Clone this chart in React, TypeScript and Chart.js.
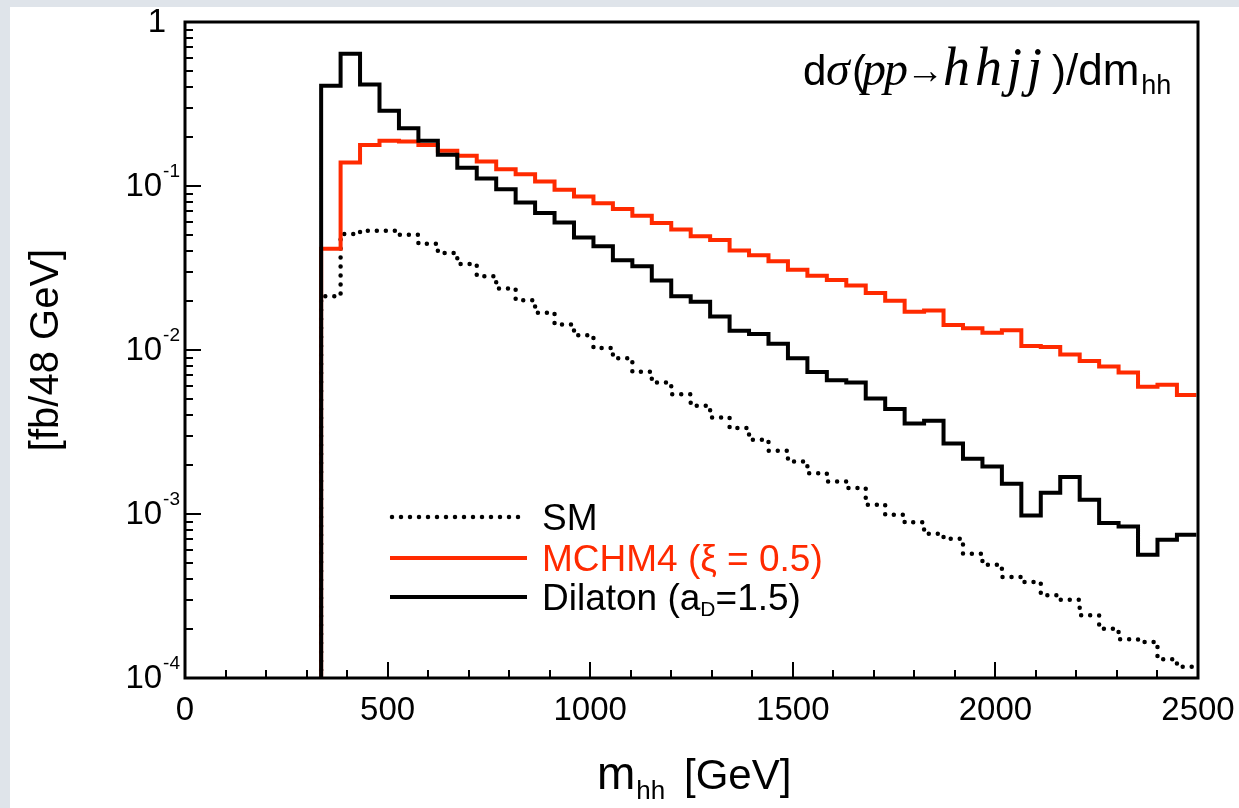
import React, { useEffect, useRef } from 'react';
import { Chart, registerables } from 'chart.js';

Chart.register(...registerables);

// ---- data ----
const binStart = 336; // GeV, lower edge of first filled bin
const binWidth = 48; // GeV
const smValues = [
  0.0213, 0.0509, 0.0534, 0.0534, 0.0505, 0.0445, 0.0391, 0.0335, 0.0282, 0.0237,
  0.0201, 0.0169, 0.0143, 0.0123, 0.0103, 0.0089, 0.00738, 0.00633, 0.00537, 0.00457,
  0.00388, 0.00334, 0.00284, 0.00243, 0.00209, 0.00177, 0.00158, 0.00144, 0.00114, 0.00099,
  0.00089, 0.000758, 0.000706, 0.000573, 0.000491, 0.000413, 0.000385, 0.00032, 0.0003, 0.000241,
  0.0002, 0.000172, 0.000166, 0.00013, 0.000117,
];
const mchm4Values = [
  0.0415, 0.139, 0.178, 0.189, 0.187, 0.178, 0.164, 0.153, 0.141, 0.1265,
  0.118, 0.1065, 0.0948, 0.0863, 0.0786, 0.0723, 0.0659, 0.0594, 0.0542, 0.0493,
  0.0469, 0.0405, 0.0378, 0.0348, 0.0309, 0.0284, 0.0267, 0.0247, 0.0223, 0.02,
  0.0171, 0.0174, 0.0142, 0.01355, 0.01274, 0.0132, 0.01057, 0.01043, 0.0094, 0.00857,
  0.00792, 0.00728, 0.00596, 0.00613, 0.00532,
];
const dilatonValues = [
  0.408, 0.641, 0.416, 0.288, 0.225, 0.189, 0.155, 0.129, 0.111, 0.0957,
  0.0794, 0.0684, 0.06, 0.0486, 0.0429, 0.0352, 0.0324, 0.0265, 0.0213, 0.0197,
  0.016, 0.0131, 0.0125, 0.0109, 0.0089, 0.00735, 0.00654, 0.00633, 0.00506, 0.00436,
  0.00356, 0.0037, 0.00269, 0.00217, 0.00195, 0.00153, 0.00098, 0.00135, 0.00168, 0.00122,
  0.00088, 0.00084, 0.000565, 0.000697, 0.000747,
];
const xTickValues = [0, 500, 1000, 1500, 2000, 2500];
const xMinorStep = 100;
const yDecades = [1e-4, 1e-3, 1e-2, 1e-1, 1];
const yExponents = ['-4', '-3', '-2', '-1', ''];
const legendLabels = ['SM', 'MCHM4 (\u03BE = 0.5)', 'Dilaton (a', 'D', '=1.5)'];

const RED = '#ff2a00';
const SANS = "'Liberation Sans', Arial, Helvetica, sans-serif";
const SERIF = "'Liberation Serif', 'Times New Roman', serif";

function toSteps(values: number[]) {
  const pts: { x: number; y: number }[] = [{ x: binStart, y: 1e-9 }];
  values.forEach((v, i) => pts.push({ x: binStart + i * binWidth, y: v }));
  pts.push({ x: binStart + values.length * binWidth, y: values[values.length - 1] });
  return pts;
}

function spacedText(ctx: any, text: string, x: number, y: number, width: number) {
  const chars = text.split('');
  const total = chars.reduce((s, c) => s + ctx.measureText(c).width, 0);
  const gap = chars.length > 1 ? (width - total) / chars.length : 0;
  let cx = x;
  for (const c of chars) {
    ctx.fillText(c, cx, y);
    cx += ctx.measureText(c).width + gap;
  }
}

const decorPlugin = {
  id: 'decor',
  beforeDraw(chart: any) {
    const ctx = chart.ctx;
    ctx.save();
    ctx.fillStyle = '#dfe4ea';
    ctx.fillRect(0, 0, chart.width, chart.height);
    ctx.fillStyle = '#ffffff';
    ctx.fillRect(10, 7, chart.width - 10, chart.height - 7);
    ctx.restore();
  },
  afterDatasetsDraw(chart: any) {
    const ctx = chart.ctx;
    const a = chart.chartArea;
    const xs = chart.scales.x;
    const ys = chart.scales.y;
    ctx.save();
    ctx.strokeStyle = '#000';
    ctx.lineCap = 'butt';
    ctx.lineWidth = 2;
    for (let v = xTickValues[0]; v <= xTickValues[xTickValues.length - 1]; v += xMinorStep) {
      const px = Math.round(xs.getPixelForValue(v));
      const major = xTickValues.includes(v);
      ctx.beginPath();
      ctx.moveTo(px, a.bottom);
      ctx.lineTo(px, a.bottom - (major ? 16 : 8));
      ctx.stroke();
    }
    for (let d = 0; d < yDecades.length; d++) {
      const dec = yDecades[d];
      const py = Math.round(ys.getPixelForValue(dec));
      ctx.beginPath();
      ctx.moveTo(a.left, py);
      ctx.lineTo(a.left + 16, py);
      ctx.stroke();
      if (d < yDecades.length - 1) {
        for (let m = 2; m <= 9; m++) {
          const pm = Math.round(ys.getPixelForValue(dec * m));
          ctx.beginPath();
          ctx.moveTo(a.left, pm);
          ctx.lineTo(a.left + 8, pm);
          ctx.stroke();
        }
      }
    }
    ctx.lineWidth = 3;
    ctx.strokeRect(a.left, a.top, a.right - a.left, a.bottom - a.top);
    ctx.restore();
  },
  afterDraw(chart: any) {
    const ctx = chart.ctx;
    const ys = chart.scales.y;
    ctx.save();
    ctx.fillStyle = '#000';
    // y tick labels with superscripts
    for (let d = 0; d < yDecades.length; d++) {
      const py = ys.getPixelForValue(yDecades[d]);
      const exp = yExponents[d];
      ctx.textBaseline = 'middle';
      ctx.font = `33px ${SANS}`;
      if (exp === '') {
        ctx.textAlign = 'right';
        ctx.fillText('1', 166, py + 1);
        continue;
      }
      ctx.textAlign = 'left';
      ctx.font = `19px ${SANS}`;
      const ew = ctx.measureText(exp).width;
      ctx.font = `33px ${SANS}`;
      const tw = ctx.measureText('10').width;
      const supX = 180 - ew;
      ctx.fillText('10', supX - tw - 1, py + 1);
      ctx.font = `19px ${SANS}`;
      ctx.textBaseline = 'alphabetic';
      ctx.fillText(exp, supX, py - 9);
    }

    // y axis title
    ctx.save();
    ctx.translate(47, 350);
    ctx.rotate(-Math.PI / 2);
    ctx.textAlign = 'center';
    ctx.textBaseline = 'middle';
    ctx.font = `40px ${SANS}`;
    ctx.fillText('[fb/48 GeV]', 0, 0);
    ctx.restore();

    // x axis title: m_hh  [GeV]
    ctx.textAlign = 'left';
    ctx.textBaseline = 'alphabetic';
    const xb = 789;
    ctx.font = `46px ${SANS}`;
    ctx.fillText('m', 597, xb);
    const mw = ctx.measureText('m').width;
    ctx.font = `26px ${SANS}`;
    ctx.fillText('hh', 597 + mw + 1, xb + 10);
    ctx.font = `42px ${SANS}`;
    ctx.fillText('[GeV]', 684, xb);

    // plot title: dσ(pp→hhjj)/dm_hh
    const tb = 85;
    const serifIt = `italic 48px ${SERIF}`;
    ctx.font = `42px ${SANS}`;
    ctx.fillText('d', 803, tb);
    ctx.font = serifIt;
    ctx.fillText('\u03C3', 826, tb);
    ctx.font = `42px ${SANS}`;
    ctx.fillText('(', 852, tb);
    ctx.font = serifIt;
    spacedText(ctx, 'pp', 862, tb, 44);
    ctx.font = `38px ${SERIF}`;
    ctx.textAlign = 'center';
    ctx.fillText('\u2192', 925, tb - 2);
    ctx.textAlign = 'left';
    ctx.font = `italic 54px ${SERIF}`;
    spacedText(ctx, 'hhjj', 943, tb, 104);
    ctx.font = `42px ${SANS}`;
    let sx = 1052;
    ctx.fillText(')', sx, tb);
    sx += ctx.measureText(')').width;
    ctx.font = `44px ${SANS}`;
    ctx.fillText('/dm', sx, tb);
    sx += ctx.measureText('/dm').width + 2;
    ctx.font = `27px ${SANS}`;
    ctx.fillText('hh', sx, tb + 9);

    // legend
    const rows = [517, 558, 597];
    const lx0 = 390;
    const lx1 = 527;
    ctx.lineCap = 'round';
    ctx.strokeStyle = '#000';
    ctx.lineWidth = 4.5;
    ctx.setLineDash([0, 9]);
    ctx.beginPath();
    ctx.moveTo(lx0 + 2, rows[0]);
    ctx.lineTo(lx1, rows[0]);
    ctx.stroke();
    ctx.setLineDash([]);
    ctx.lineCap = 'butt';
    ctx.lineWidth = 4;
    ctx.strokeStyle = RED;
    ctx.beginPath();
    ctx.moveTo(lx0, rows[1]);
    ctx.lineTo(lx1, rows[1]);
    ctx.stroke();
    ctx.strokeStyle = '#000';
    ctx.beginPath();
    ctx.moveTo(lx0, rows[2]);
    ctx.lineTo(lx1, rows[2]);
    ctx.stroke();

    const tx0 = 542;
    const fs = 37;
    const off = 13;
    ctx.textBaseline = 'alphabetic';
    ctx.font = `${fs}px ${SANS}`;
    ctx.fillStyle = '#000';
    ctx.fillText(legendLabels[0], tx0, rows[0] + off);
    ctx.fillStyle = RED;
    ctx.fillText(legendLabels[1], tx0, rows[1] + off);
    ctx.fillStyle = '#000';
    let dx = tx0;
    ctx.fillText(legendLabels[2], dx, rows[2] + off);
    dx += ctx.measureText(legendLabels[2]).width;
    ctx.font = `21px ${SANS}`;
    ctx.fillText(legendLabels[3], dx, rows[2] + off + 6);
    dx += ctx.measureText(legendLabels[3]).width;
    ctx.font = `${fs}px ${SANS}`;
    ctx.fillText(legendLabels[4], dx, rows[2] + off);
    ctx.restore();
  },
};

export default function App() {
  const canvasRef = useRef<HTMLCanvasElement | null>(null);

  useEffect(() => {
    const canvas = canvasRef.current;
    if (!canvas) return;
    const chart = new Chart(canvas, {
      type: 'line',
      data: {
        datasets: [
          {
            label: 'Dilaton (a_D=1.5)',
            data: toSteps(dilatonValues),
            borderColor: '#000',
            borderWidth: 4,
            stepped: 'before',
            pointRadius: 0,
            fill: false,
            order: 0,
          },
          {
            label: 'MCHM4 (\u03BE = 0.5)',
            data: toSteps(mchm4Values),
            borderColor: RED,
            borderWidth: 4,
            stepped: 'before',
            pointRadius: 0,
            fill: false,
            order: 1,
          },
          {
            label: 'SM',
            data: toSteps(smValues),
            borderColor: '#000',
            borderWidth: 4.5,
            borderDash: [0, 9],
            borderCapStyle: 'round',
            stepped: 'before',
            pointRadius: 0,
            fill: false,
            order: 2,
          },
        ],
      },
      options: {
        responsive: false,
        animation: false,
        devicePixelRatio: 1,
        layout: { padding: { top: 22, right: 41, left: 0, bottom: 0 } },
        plugins: {
          legend: { display: false },
          tooltip: { enabled: false },
          title: { display: false },
        },
        scales: {
          x: {
            type: 'linear',
            min: xTickValues[0],
            max: xTickValues[xTickValues.length - 1],
            grid: { display: false, drawTicks: false },
            border: { display: false },
            ticks: {
              stepSize: 500,
              autoSkip: false,
              maxRotation: 0,
              padding: 4,
              color: '#000',
              font: { family: SANS, size: 33, lineHeight: 1.76 },
              callback: (v: any) => String(v),
            },
            afterFit: (s: any) => {
              s.height = 130;
            },
          },
          y: {
            type: 'logarithmic',
            min: yDecades[0],
            max: yDecades[yDecades.length - 1],
            grid: { display: false, drawTicks: false },
            border: { display: false },
            ticks: { display: false },
            afterFit: (s: any) => {
              s.width = 185;
            },
          },
        },
      },
      plugins: [decorPlugin],
    });
    return () => chart.destroy();
  }, []);

  return (
    <div style={{ position: 'fixed', left: 0, top: 0, width: 1239, height: 808 }}>
      <canvas ref={canvasRef} width={1239} height={808} style={{ display: 'block' }} />
    </div>
  );
}
